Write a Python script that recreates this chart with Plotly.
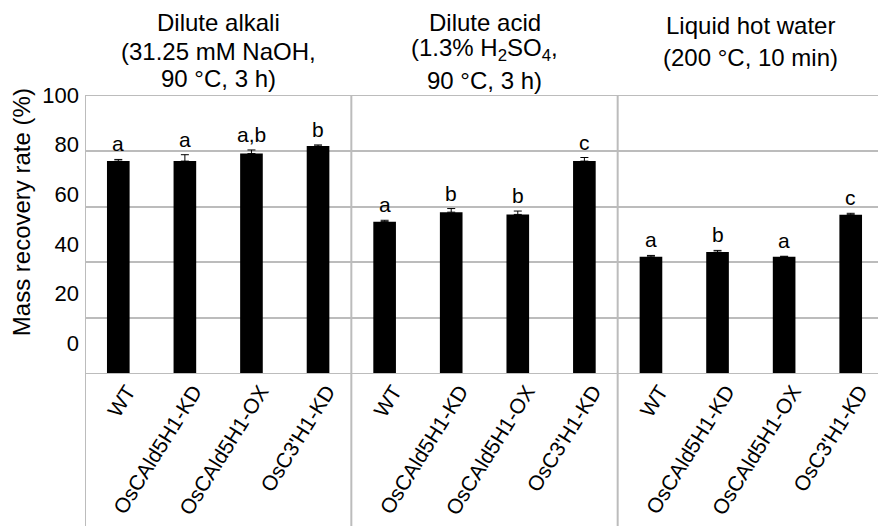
import plotly.graph_objects as go

groups = ["WT", "OsCAld5H1-KD", "OsCAld5H1-OX", "OsC3'H1-KD"]
treatments = ["Dilute alkali", "Dilute acid", "Liquid hot water"]
conditions = [["(31.25 mM NaOH,", "90 °C, 3 h)"],
              ["(1.3% H<sub>2</sub>SO<sub>4</sub>,", "90 °C, 3 h)"],
              ["(200 °C, 10 min)"]]

alkali = [76.3, 76.3, 79.0, 81.7]
alkali_err = [0.6, 2.3, 1.3, 0.4]
acid = [54.6, 58.0, 57.2, 76.3]
acid_err = [0.5, 1.3, 1.2, 1.3]
lhw = [42.0, 43.7, 42.0, 57.1]
lhw_err = [0.5, 0.6, 0.2, 0.5]

alkali_sig = ["a", "a", "a,b", "b"]
acid_sig = ["a", "b", "b", "c"]
lhw_sig = ["a", "b", "a", "c"]

y_ticks = [0, 20, 40, 60, 80, 100]

values = alkali + acid + lhw
errors = alkali_err + acid_err + lhw_err
sig = alkali_sig + acid_sig + lhw_sig
labels = groups * 3
xs = list(range(len(values)))

FONT = "Arial, Liberation Sans, sans-serif"
OFF = 8  # page body margin

fig = go.Figure()
fig.add_trace(go.Bar(
    x=xs, y=values,
    marker=dict(color="black", line=dict(width=0)),
    error_y=dict(type="data", array=errors, arrayminus=[0] * len(errors),
                 symmetric=False, color="black", thickness=1, width=4),
    showlegend=False,
))
# empty trace so the label axis is rendered
fig.add_trace(go.Scatter(x=[None], y=[None], yaxis="y2", showlegend=False,
                         hoverinfo="skip"))

annotations = []
for x, v, e, s in zip(xs, values, errors, sig):
    annotations.append(dict(x=x, y=v + e, xref="x", yref="y", text=s,
                            showarrow=False, yanchor="bottom", yshift=2,
                            font=dict(size=21, color="black", family=FONT)))

title_rows = [[22, 51, 79], [22, 50, 80], [25, 57]]
for i, (t, cond) in enumerate(zip(treatments, conditions)):
    lines = [t] + cond
    for line, ypx in zip(lines, title_rows[i]):
        annotations.append(dict(x=4 * i + 1.5, xref="x", yref="paper",
                                y=(374 - ypx) / 279, yanchor="middle",
                                text=line, showarrow=False,
                                font=dict(size=24, color="black", family=FONT)))

annotations.append(dict(x=(21 - 85) / 799, y=0.58, xref="paper", yref="paper",
                        text="Mass recovery rate (%)", textangle=-90,
                        showarrow=False, xanchor="center", yanchor="middle",
                        font=dict(size=24, color="black", family=FONT)))

shapes = []
for xb in [-0.5, 3.5, 7.5, 11.5]:
    shapes.append(dict(type="line", xref="x", yref="paper", x0=xb, x1=xb,
                       y0=-0.545, y1=1, line=dict(color="#bcbcbc", width=2)))
for yb in [0, 100]:
    shapes.append(dict(type="line", xref="paper", yref="y", x0=0, x1=1,
                       y0=yb, y1=yb, line=dict(color="#bcbcbc", width=2)))

fig.update_layout(
    width=886 - OFF, height=532 - OFF,
    margin=dict(l=85 - OFF, r=2, t=95 - OFF, b=158),
    plot_bgcolor="white", paper_bgcolor="white",
    bargap=0.66,
    font=dict(family=FONT, color="black"),
    xaxis=dict(range=[-0.5, 11.5], tickvals=xs, ticktext=labels,
               tickangle=-58, tickfont=dict(size=21, color="black"),
               ticklabelshift=9,
               showgrid=False, zeroline=False, showline=False, ticks="",
               automargin=False),
    yaxis=dict(range=[0, 100], tickvals=y_ticks, showticklabels=False,
               showgrid=True, gridcolor="#bcbcbc", gridwidth=2,
               zeroline=False, showline=False, ticks="", automargin=False),
    yaxis2=dict(range=[-12.5, 100], overlaying="y", side="left",
                tickvals=y_ticks, showgrid=False, zeroline=False,
                showline=False, ticks="", ticklabelstandoff=5,
                automargin=False,
                tickfont=dict(size=22, color="black")),
    annotations=annotations,
    shapes=shapes,
)

fig.write_html("out.html")
